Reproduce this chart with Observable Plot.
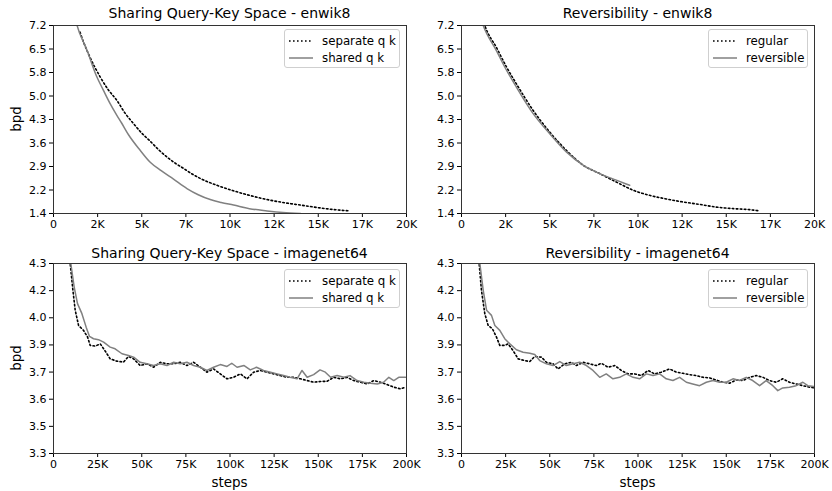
<!DOCTYPE html>
<html>
<head>
<meta charset="utf-8">
<script src="https://cdn.jsdelivr.net/npm/d3@7"></script>
<script src="https://cdn.jsdelivr.net/npm/@observablehq/plot@0.6"></script>
<style>
  html, body { margin: 0; padding: 0; background: #fff; }
  #root { position: relative; width: 832px; height: 491px; font-family: "DejaVu Sans", sans-serif; overflow: hidden; }
  .panel { position: absolute; }
  .title { position: absolute; font-size: 14px; white-space: nowrap; transform: translate(-50%, -50%); color: #000; }
  .ylab { position: absolute; font-size: 13.5px; white-space: nowrap; transform: translate(-50%, -50%) rotate(-90deg); color: #000; }
  .xlab { position: absolute; font-size: 13.5px; white-space: nowrap; transform: translate(-50%, -50%); color: #000; }
  .legend { position: absolute; border: 1px solid #cfcfcf; border-radius: 3px; background: rgba(255,255,255,0.85); box-sizing: border-box; font-size: 11.8px; }
  .entry { position: absolute; left: 4px; height: 16px; display: flex; align-items: center; white-space: nowrap; }
  .entry svg { margin-right: 9px; }
</style>
</head>
<body>
<div id="root"></div>
<script>
// ---------- tick values and labels ----------
const enwikXTicks = [0, 2.5, 5, 7.5, 10, 12.5, 15, 17.5, 20];
const enwikXLabels = ["0", "2K", "5K", "7K", "10K", "12K", "15K", "17K", "20K"];
const enwikYTicks = [1.4, 2.125, 2.85, 3.575, 4.3, 5.025, 5.75, 6.475, 7.2];
const enwikYLabels = ["1.4", "2.2", "2.9", "3.6", "4.3", "5.0", "5.8", "6.5", "7.2"];
const imgXTicks = [0, 25, 50, 75, 100, 125, 150, 175, 200];
const imgXLabels = ["0", "25K", "50K", "75K", "100K", "125K", "150K", "175K", "200K"];
const imgYTicks = [3.3, 3.4429, 3.5857, 3.7286, 3.8714, 4.0143, 4.1571, 4.3];
const imgYLabels = ["3.3", "3.5", "3.6", "3.7", "3.9", "4.0", "4.2", "4.3"];

// ---------- series (steps in thousands, bpd) ----------
// Sharing QK - enwik8
const enwikSeparateSteps = [1.5, 1.6, 2.0, 2.65, 3.1, 3.59, 4.05, 4.54, 5.0, 5.48, 5.95, 6.43, 6.9, 7.37, 7.85, 8.32, 9.26, 10.2, 11.1, 12.1, 13.0, 14.0, 15.0, 15.9, 16.8];
const enwikSeparateBpd   = [7.0, 6.84, 6.3, 5.61, 5.22, 4.89, 4.5, 4.17, 3.88, 3.63, 3.37, 3.14, 2.95, 2.79, 2.62, 2.48, 2.27, 2.1, 1.96, 1.83, 1.74, 1.66, 1.58, 1.52, 1.48];
const enwikSharedSteps = [1.2, 1.32, 1.89, 2.46, 2.83, 3.2, 3.59, 3.85, 4.25, 4.91, 5.48, 6.1, 6.8, 7.56, 8.2, 8.88, 9.5, 10.2, 11.1, 12.1, 13.0, 14.0];
const enwikSharedBpd   = [7.5, 7.23, 6.45, 5.61, 5.2, 4.8, 4.43, 4.2, 3.83, 3.35, 2.98, 2.72, 2.46, 2.17, 1.98, 1.83, 1.74, 1.66, 1.55, 1.48, 1.43, 1.4];

// Reversibility - enwik8
const enwikRegularSteps = [1.2, 1.32, 2.0, 2.55, 3.11, 4.06, 5.0, 5.94, 6.89, 7.83, 8.77, 9.72, 10.66, 11.6, 12.5, 13.5, 14.4, 15.4, 16.3, 16.9];
const enwikRegularBpd   = [7.4, 7.2, 6.5, 5.92, 5.4, 4.58, 3.91, 3.35, 2.89, 2.63, 2.37, 2.12, 1.96, 1.85, 1.76, 1.68, 1.60, 1.55, 1.52, 1.48];
const enwikReversibleSteps = [1.1, 1.23, 2.0, 2.45, 3.11, 4.06, 5.0, 5.94, 6.89, 7.83, 8.77, 9.53];
const enwikReversibleBpd   = [7.4, 7.2, 6.4, 5.92, 5.3, 4.48, 3.86, 3.30, 2.89, 2.63, 2.43, 2.27];

// Sharing QK - imagenet64
const imgSeparateSteps = [9.0, 9.45, 11.0, 12.3, 14.2, 17.0, 19.3, 20.8, 23.6, 26.5, 29.3, 32.1, 35.9, 39.7, 42.5, 45.4, 49.1, 52.9, 56.7, 60.5, 64.3, 68.1, 71.8, 75.6, 79.4, 83.2, 86.9, 90.7, 94.5, 98.3, 102.0, 105.9, 109.6, 113.4, 117.2, 121.0, 124.8, 128.5, 132.3, 136.0, 139.9, 143.7, 147.4, 151.0, 155.0, 158.8, 162.6, 166.4, 170.0, 174.0, 177.7, 181.5, 185.3, 189.0, 192.8, 196.6, 199.4];
const imgSeparateBpd   = [4.40, 4.30, 4.159, 4.054, 3.974, 3.948, 3.913, 3.869, 3.865, 3.877, 3.839, 3.798, 3.786, 3.781, 3.811, 3.798, 3.763, 3.772, 3.754, 3.780, 3.772, 3.772, 3.780, 3.763, 3.780, 3.754, 3.728, 3.745, 3.719, 3.693, 3.701, 3.719, 3.693, 3.728, 3.737, 3.728, 3.719, 3.710, 3.701, 3.701, 3.693, 3.684, 3.675, 3.679, 3.680, 3.701, 3.693, 3.701, 3.684, 3.675, 3.666, 3.684, 3.675, 3.663, 3.649, 3.640, 3.649];
const imgSharedSteps = [9.5, 9.8, 11.7, 13.6, 16.1, 18.5, 20.4, 22.7, 25.5, 28.4, 32.1, 34.9, 38.8, 42.5, 45.4, 49.1, 52.9, 56.7, 60.5, 64.3, 68.1, 71.8, 75.6, 79.4, 83.2, 86.9, 90.7, 94.5, 98.3, 101.0, 104.0, 108.0, 111.5, 115.0, 119.0, 123.0, 126.7, 130.4, 134.0, 138.0, 140.8, 143.7, 147.4, 151.0, 154.0, 157.0, 160.7, 164.5, 168.0, 172.0, 175.8, 179.6, 183.4, 187.0, 190.0, 192.8, 195.6, 199.4];
const imgSharedBpd   = [4.40, 4.30, 4.177, 4.089, 4.036, 3.965, 3.916, 3.904, 3.899, 3.886, 3.860, 3.851, 3.825, 3.816, 3.807, 3.780, 3.772, 3.763, 3.772, 3.763, 3.780, 3.772, 3.780, 3.763, 3.754, 3.737, 3.754, 3.768, 3.758, 3.775, 3.754, 3.763, 3.740, 3.754, 3.737, 3.728, 3.719, 3.710, 3.701, 3.693, 3.737, 3.701, 3.715, 3.740, 3.728, 3.701, 3.710, 3.701, 3.710, 3.684, 3.675, 3.670, 3.666, 3.675, 3.701, 3.684, 3.701, 3.701];

// Reversibility - imagenet64
const imgRegularSteps = [9.6, 10.0, 11.3, 13.2, 15.1, 17.5, 19.8, 21.7, 24.5, 26.4, 29.2, 32.1, 35.8, 38.7, 41.5, 45.3, 48.1, 51.9, 54.7, 58.5, 62.3, 65.1, 68.9, 72.6, 76.4, 79.2, 83.0, 86.8, 90.6, 94.3, 98.1, 101.9, 105.7, 109.4, 113.2, 117.9, 121.7, 125.5, 129.2, 133.0, 136.8, 140.6, 144.3, 148.1, 151.9, 155.7, 159.4, 163.2, 167.0, 170.8, 174.5, 178.3, 182.0, 185.8, 189.6, 193.4, 197.2, 200.0];
const imgRegularBpd   = [4.40, 4.30, 4.159, 4.036, 3.974, 3.957, 3.913, 3.869, 3.869, 3.877, 3.842, 3.798, 3.789, 3.784, 3.811, 3.807, 3.780, 3.772, 3.745, 3.772, 3.780, 3.763, 3.780, 3.772, 3.763, 3.775, 3.754, 3.763, 3.737, 3.719, 3.719, 3.710, 3.737, 3.719, 3.728, 3.745, 3.728, 3.722, 3.715, 3.710, 3.701, 3.698, 3.687, 3.675, 3.670, 3.687, 3.684, 3.701, 3.710, 3.701, 3.684, 3.675, 3.693, 3.675, 3.666, 3.657, 3.649, 3.645];
const imgReversibleSteps = [10.0, 10.4, 12.3, 14.2, 17.0, 18.9, 21.7, 24.5, 27.4, 31.1, 34.9, 38.7, 41.5, 44.3, 48.1, 51.9, 55.7, 59.4, 63.2, 67.0, 70.8, 74.5, 78.3, 82.0, 85.8, 89.6, 93.4, 97.2, 100.9, 104.7, 108.5, 112.3, 116.0, 119.8, 123.6, 127.4, 131.0, 134.9, 138.7, 142.5, 146.2, 150.0, 153.8, 157.5, 161.3, 165.0, 168.9, 172.6, 176.4, 179.2, 182.0, 185.8, 189.6, 193.4, 196.2, 200.0];
const imgReversibleBpd   = [4.40, 4.30, 4.159, 4.054, 4.027, 3.974, 3.948, 3.904, 3.877, 3.846, 3.833, 3.828, 3.821, 3.789, 3.772, 3.763, 3.784, 3.763, 3.772, 3.780, 3.763, 3.737, 3.701, 3.719, 3.693, 3.701, 3.719, 3.701, 3.693, 3.719, 3.710, 3.719, 3.693, 3.684, 3.701, 3.675, 3.666, 3.657, 3.675, 3.684, 3.675, 3.675, 3.693, 3.684, 3.701, 3.684, 3.657, 3.684, 3.657, 3.631, 3.645, 3.649, 3.657, 3.675, 3.657, 3.652];

// ---------- panel text ----------
const panelTitles = ["Sharing Query-Key Space - enwik8", "Reversibility - enwik8", "Sharing Query-Key Space - imagenet64", "Reversibility - imagenet64"];
const qkNames = ["separate q k", "shared q k"];
const revNames = ["regular", "reversible"];
const yAxisLabel = "bpd";
const xAxisLabel = "steps";

const zip = (xs, ys) => xs.map((x, i) => ({x, y: ys[i]}));
const root = document.getElementById("root");

function panel({left, top, height, marginBottom, xDomain, yDomain, xTicks, xLabels, yTicks, yLabels, dotted, solid, curve}) {
  const xMap = new Map(xTicks.map((t, i) => [t, xLabels[i]]));
  const yMap = new Map(yTicks.map((t, i) => [t, yLabels[i]]));
  const svg = Plot.plot({
    width: 416, height,
    marginLeft: 53, marginRight: 10, marginTop: 25, marginBottom,
    style: {fontFamily: "DejaVu Sans, sans-serif", fontSize: "11px", color: "#000", background: "transparent", overflow: "visible"},
    x: {domain: xDomain, ticks: xTicks, tickFormat: d => xMap.get(d), tickSize: 4, tickPadding: 3, label: null},
    y: {domain: yDomain, ticks: yTicks, tickFormat: d => yMap.get(d), tickSize: 4, tickPadding: 3, label: null},
    marks: [
      Plot.line(dotted, {x: "x", y: "y", stroke: "#000", strokeWidth: 1.6, strokeDasharray: "1.6,2.4", clip: true, curve}),
      Plot.line(solid, {x: "x", y: "y", stroke: "#808080", strokeWidth: 1.5, clip: true, curve}),
      Plot.frame({stroke: "#333", strokeWidth: 1})
    ]
  });
  const wrap = document.createElement("div");
  wrap.className = "panel";
  wrap.style.left = left + "px";
  wrap.style.top = top + "px";
  wrap.appendChild(svg);
  root.appendChild(wrap);
}

function addText(cls, text, x, y) {
  const d = document.createElement("div");
  d.className = cls;
  d.textContent = text;
  d.style.left = x + "px";
  d.style.top = y + "px";
  root.appendChild(d);
}

function legend(names, left, top, width, lineX) {
  const box = document.createElement("div");
  box.className = "legend";
  box.style.left = left + "px";
  box.style.top = top + "px";
  box.style.width = width + "px";
  box.style.height = "39px";
  const styles = [{stroke: "#000", dash: "1.6,2.4", w: 1.6}, {stroke: "#808080", dash: null, w: 1.5}];
  names.forEach((n, i) => {
    const e = document.createElement("div");
    e.className = "entry";
    e.style.top = (3 + i * 17) + "px";
    e.style.left = lineX + "px";
    e.innerHTML = `<svg width="24" height="10"><line x1="0" x2="24" y1="5" y2="5" stroke="${styles[i].stroke}" stroke-width="${styles[i].w}" ${styles[i].dash ? `stroke-dasharray="${styles[i].dash}"` : ""}/></svg><span></span>`;
    e.querySelector("span").textContent = n;
    box.appendChild(e);
  });
  root.appendChild(box);
}

panel({left: 0, top: 0, height: 235, marginBottom: 22, xDomain: [0, 20], yDomain: [1.4, 7.2],
  xTicks: enwikXTicks, xLabels: enwikXLabels, yTicks: enwikYTicks, yLabels: enwikYLabels, curve: "monotone-x",
  dotted: zip(enwikSeparateSteps, enwikSeparateBpd), solid: zip(enwikSharedSteps, enwikSharedBpd)});
panel({left: 408, top: 0, height: 235, marginBottom: 22, xDomain: [0, 20], yDomain: [1.4, 7.2],
  xTicks: enwikXTicks, xLabels: enwikXLabels, yTicks: enwikYTicks, yLabels: enwikYLabels, curve: "monotone-x",
  dotted: zip(enwikRegularSteps, enwikRegularBpd), solid: zip(enwikReversibleSteps, enwikReversibleBpd)});
panel({left: 0, top: 238, height: 245, marginBottom: 30, xDomain: [0, 200], yDomain: [3.3, 4.3],
  xTicks: imgXTicks, xLabels: imgXLabels, yTicks: imgYTicks, yLabels: imgYLabels, curve: "linear",
  dotted: zip(imgSeparateSteps, imgSeparateBpd), solid: zip(imgSharedSteps, imgSharedBpd)});
panel({left: 408, top: 238, height: 245, marginBottom: 30, xDomain: [0, 200], yDomain: [3.3, 4.3],
  xTicks: imgXTicks, xLabels: imgXLabels, yTicks: imgYTicks, yLabels: imgYLabels, curve: "linear",
  dotted: zip(imgRegularSteps, imgRegularBpd), solid: zip(imgReversibleSteps, imgReversibleBpd)});

addText("title", panelTitles[0], 229.5, 13);
addText("title", panelTitles[1], 637.5, 13);
addText("title", panelTitles[2], 229.5, 253);
addText("title", panelTitles[3], 637.5, 253);
addText("ylab", yAxisLabel, 16, 119);
addText("ylab", yAxisLabel, 16, 358);
addText("xlab", xAxisLabel, 229.5, 482);
addText("xlab", xAxisLabel, 637.5, 482);

legend(qkNames, 284, 29, 116, 4);
legend(revNames, 708, 29, 100, 4);
legend(qkNames, 284, 269, 116, 4);
legend(revNames, 708, 269, 100, 4);
</script>
</body>
</html>
